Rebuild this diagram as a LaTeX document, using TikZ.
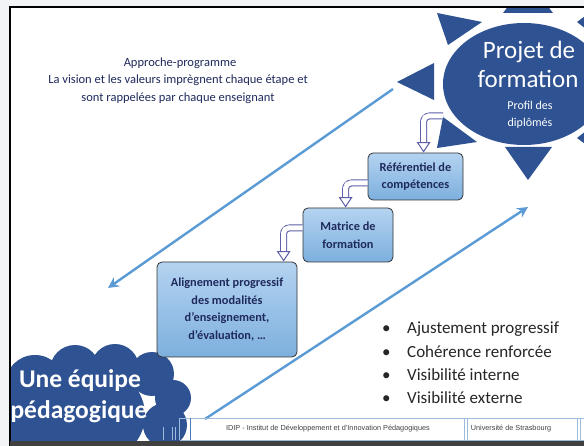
\documentclass[tikz,border=0pt]{standalone}
\usepackage{fontspec}
\setmainfont{Carlito}
\newfontfamily\footfont{Liberation Sans}
\usetikzlibrary{arrows.meta,calc,shapes.geometric}
\definecolor{navy}{HTML}{1F2A5C}
\definecolor{sunblue}{HTML}{2E5292}
\definecolor{linkblue}{HTML}{5B9BD5}
\definecolor{boxtop}{HTML}{B4D3F0}
\definecolor{boxbot}{HTML}{7DAFDE}
\definecolor{arrowedge}{HTML}{5D5FA8}
\definecolor{footline}{HTML}{9DBBDD}
\definecolor{footdark}{HTML}{4A7AB8}
\definecolor{pagebg}{HTML}{F3F4F6}
\newcommand{\bentarr}[2]{%
  \draw[line width=7pt, arrowedge, rounded corners=6pt] #1 -| ($#2+(0,-8)$);
  \draw[line width=5pt, white, rounded corners=5pt] #1 -| ($#2+(0,-8.5)$);
  \filldraw[fill=white, draw=arrowedge, line width=1pt, line join=miter]
    ($#2+(-6,-9)$) -- ($#2+(6,-9)$) -- #2 -- cycle;}
\begin{document}
\begin{tikzpicture}[x=1pt,y=-1pt,
  stepbox/.style={draw=black!80, line width=0.8pt, rounded corners=5pt,
    top color=boxtop, bottom color=boxbot, align=center,
    font=\bfseries\fontsize{12.3}{17.5}\selectfont, text=navy, inner sep=0pt},
  longarrow/.style={draw=linkblue, line width=2.4pt,
    -{Stealth[length=11pt,width=11pt,inset=4pt]}},
  ray/.style={fill=sunblue},
  suntxt/.style={anchor=base, text=white, inner sep=0pt},
  bullettxt/.style={anchor=west, inner sep=0pt, font=\fontsize{17}{20}\selectfont, text=black!85},
  foottxt/.style={font=\footfont\fontsize{7.3}{9}\selectfont, text=black!75},
  titletxt/.style={font=\fontsize{12.5}{15}\selectfont, text=navy}]
\useasboundingbox (0,0) rectangle (584,446);
\fill[pagebg] (0,0) rectangle (584,446);
\fill[white] (10,7) rectangle (584,441);
\begin{scope}
\clip (11,8) rectangle (584,441);
% sun rays
\fill[ray] (437,13) -- (482,22) -- (448,45) -- cycle;
\fill[ray] (397,82) -- (434,63) -- (434,100) -- cycle;
\fill[ray] (443,117) -- (437,148) -- (477,142) -- cycle;
\fill[ray] (505,147) -- (552,147) -- (528,180) -- cycle;
\fill[ray] (503,13) -- (553,13) -- (528,-20) -- cycle;
\fill[ray] (577,22) -- (600,5) -- (600,40) -- cycle;
\fill[ray] (577,138) -- (600,120) -- (600,155) -- cycle;
\node[ellipse, fill=sunblue, minimum width=162pt, minimum height=122pt,
  inner sep=0pt] (sun) at (524,84) {};
\node[suntxt, font=\fontsize{25}{30}\selectfont] (s1) at (529,59) {Projet de};
\node[suntxt, font=\fontsize{25}{30}\selectfont] (s2) at (528,88) {formation};
\node[suntxt, font=\fontsize{12}{15}\selectfont] (s3) at (530,110) {Profil des};
\node[suntxt, font=\fontsize{12}{15}\selectfont] (s4) at (530,127) {diplômés};
% cloud
\fill[sunblue] (35,385) circle (30) (75,370) circle (25) (115,368) circle (24)
  (152,374) circle (22) (173,398) circle (18) (165,425) circle (22)
  (100,415) circle (45) (35,425) circle (35);
\node[font=\bfseries\fontsize{25.5}{30}\selectfont, text=white] (team1) at (80,381) {Une équipe};
\node[font=\bfseries\fontsize{25.5}{30}\selectfont, text=white] (team2) at (79,412) {pédagogique};
\end{scope}
% title text
\node[titletxt] (t1) at (180,63) {Approche-programme};
\node[titletxt] (t2) at (178,80) {La vision et les valeurs imprègnent chaque étape et};
\node[titletxt] (t3) at (178,98) {sont rappelées par chaque enseignant};
% long arrows
\coordinate (u1) at (393,89);
\coordinate (u2) at (108,288);
\coordinate (l1) at (205,419);
\coordinate (l2) at (528,207);
\draw[longarrow] (u1) -- (u2);
\draw[longarrow] (l1) -- (l2);
% boxes
\node[stepbox, minimum width=95pt, minimum height=47pt] (box1) at (415.5,176.5)
  {Référentiel de\\compétences};
\node[stepbox, minimum width=90pt, minimum height=54pt] (box2) at (348,235)
  {Matrice de\\formation};
\node[stepbox, minimum width=140pt, minimum height=95pt] (box3) at (227,309.5)
  {Alignement progressif\\des modalités\\d’enseignement,\\d’évaluation, …};
% bent arrows
\coordinate (b0) at (443,116);
\bentarr{(b0)}{($(box1.north west)+(56,-1)$)}
\bentarr{($(box1.west)+(0,6.5)$)}{($(box2.north west)+(43,-1)$)}
\bentarr{($(box2.west)+(0,-7)$)}{($(box3.north west)+(127,-1)$)}
% bullets
\node[bullettxt] (i1) at (382,329) {\makebox[25pt][l]{•}Ajustement progressif};
\node[bullettxt] (i2) at (382,352) {\makebox[25pt][l]{•}Cohérence renforcée};
\node[bullettxt] (i3) at (382,375) {\makebox[25pt][l]{•}Visibilité interne};
\node[bullettxt] (i4) at (382,398) {\makebox[25pt][l]{•}Visibilité externe};
% footer
\draw[footline, line width=0.7pt] (180,418) -- (584,418) (180,440) -- (584,440);
\foreach \x in {163,172,175} \draw[footline, line width=0.6pt] (\x,427) -- (\x,440);
\draw[footline, line width=0.6pt] (179,418) -- (179,440);
\draw[footdark, line width=0.9pt] (190,418) -- (190,440);
\foreach \x in {464,467,577,580} \draw[footline, line width=0.7pt] (\x,418) -- (\x,440);
\node[foottxt] (f1) at (328,429) {IDIP - Institut de Développement et d’Innovation Pédagogiques};
\node[foottxt] (f2) at (511,429) {Université de Strasbourg};
% frame
\draw[black, line width=2pt] (10,446) -- (10,7) -- (584,7);
\fill[black!75] (10,441) rectangle (584,446);
\end{tikzpicture}
\end{document}
